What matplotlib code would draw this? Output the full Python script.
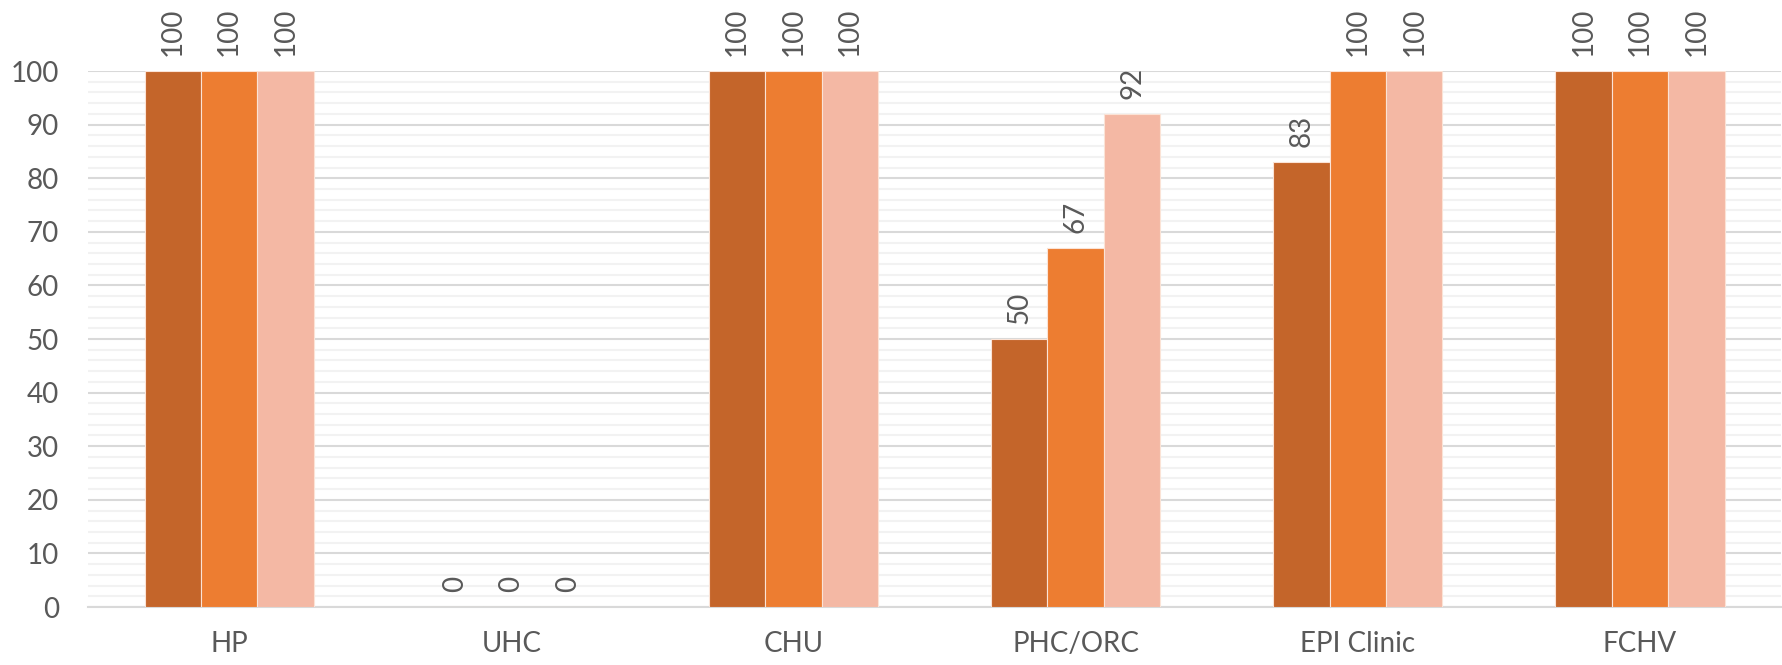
import numpy as np
import matplotlib.pyplot as plt
from matplotlib.ticker import MultipleLocator

categories = ["HP", "UHC", "CHU", "PHC/ORC", "EPI Clinic", "FCHV"]
series_a = [100, 0, 100, 50, 83, 100]
series_b = [100, 0, 100, 67, 100, 100]
series_c = [100, 0, 100, 92, 100, 100]

colors = ["#C4652A", "#ED7D31", "#F4B8A4"]
text_color = "#595959"

plt.rcParams['font.family'] = ['Lato', 'DejaVu Sans']

fig = plt.figure(figsize=(17.83, 6.65), dpi=100)
ax = fig.add_axes([0.0494, 0.0872, 0.9495, 0.806])

x = np.arange(len(categories))
width = 0.2
for i, (vals, col) in enumerate(zip([series_a, series_b, series_c], colors)):
    pos = x + (i - 1) * width
    bars = ax.bar(pos, vals, width, color=col, edgecolor="#FBE3D6", linewidth=0.8, zorder=3)
    for xp, v in zip(pos, vals):
        ax.annotate(str(v), (xp, v), xytext=(0, 11), textcoords="offset points",
                    rotation=90, ha="center", va="bottom", fontsize=20,
                    color=text_color, annotation_clip=False)

ax.set_xlim(-0.5, 5.5)
ax.set_ylim(0, 100)
ax.yaxis.set_major_locator(MultipleLocator(10))
ax.yaxis.set_minor_locator(MultipleLocator(2))
ax.grid(axis="y", which="major", color="#D9D9D9", linewidth=1.5, zorder=0)
ax.grid(axis="y", which="minor", color="#F2F2F2", linewidth=1.5, zorder=0)
ax.set_xticks(x)
ax.set_xticklabels(categories)
ax.tick_params(axis="both", which="both", length=0, labelsize=20, colors=text_color)
ax.tick_params(axis="x", pad=17)
ax.tick_params(axis="y", pad=21)
for s in ["top", "right", "left"]:
    ax.spines[s].set_visible(False)
ax.spines["bottom"].set_color("#D9D9D9")
ax.spines["bottom"].set_linewidth(1.5)

fig.savefig("out.png", dpi=100)
